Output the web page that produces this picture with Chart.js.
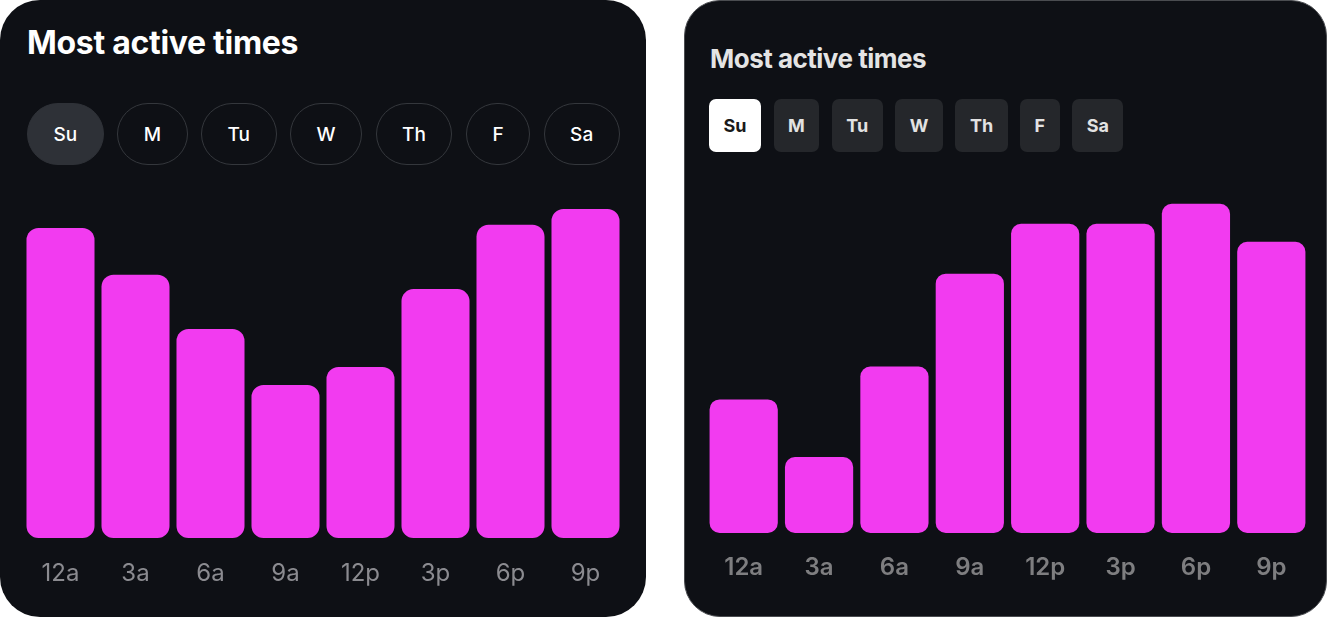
<!DOCTYPE html>
<html>
<head>
<meta charset="utf-8">
<script src="https://cdn.jsdelivr.net/npm/chart.js@4.4.1/dist/chart.umd.min.js"></script>
<style>
  html, body { margin: 0; padding: 0; background: #ffffff; }
  body { width: 1328px; height: 618px; position: relative; overflow: hidden; font-family: Inter, "Noto Sans", sans-serif; }
  .card { position: absolute; top: 0; height: 617px; background: #0e1015; box-sizing: border-box; }
  #cardA { left: 0; width: 646px; border-radius: 40px; }
  #cardB { left: 684px; width: 643px; border-radius: 36px; border: 1px solid #4a4c50; }
  .title { position: absolute; color: #ffffff; font-weight: 700; white-space: nowrap; }
  #cardA .title { left: 27px; top: 23px; font-size: 32px; line-height: 40px; letter-spacing: -0.3px; }
  #cardB .title { left: 25px; top: 42px; font-size: 26px; line-height: 32px; color: #e4e4e4; letter-spacing: -0.5px; }
  .days { position: absolute; display: flex; }
  #cardA .days { left: 27px; top: 103px; gap: 13.5px; }
  #cardB .days { left: 24px; top: 98px; gap: 12.5px; }
  .day { box-sizing: border-box; display: flex; align-items: center; justify-content: center; color: #ffffff; }
  #cardA .day { height: 62px; padding: 0 25.5px; border-radius: 31px; border: 1px solid #34373c; font-size: 19px; font-weight: 500; }
  #cardA .day.on { background: #2e3137; border-color: #2e3137; }
  #cardB .day { height: 53px; padding: 0 14.5px; border-radius: 7px; background: #25272b; font-size: 18px; font-weight: 700; color: #e2e2e2; }
  #cardB .day.on { background: #ffffff; color: #1a1a1a; }
  .plot { position: absolute; }
  #cardA .plot { left: 0; top: 190px; width: 646px; height: 427px; }
  #cardB .plot { left: 0; top: 189px; width: 641px; height: 426px; }
</style>
</head>
<body>
<div class="card" id="cardA">
  <div class="title">Most active times</div>
  <div class="days"></div>
  <div class="plot"><canvas id="chartA"></canvas></div>
</div>
<div class="card" id="cardB">
  <div class="title">Most active times</div>
  <div class="days"></div>
  <div class="plot"><canvas id="chartB"></canvas></div>
</div>
<script>
const dayLabels = ['Su', 'M', 'Tu', 'W', 'Th', 'F', 'Sa'];
const hourLabels = ['12a', '3a', '6a', '9a', '12p', '3p', '6p', '9p'];

// relative activity, Sunday (max of scale = 100)
const activityA = [91.2, 77.4, 61.5, 45.0, 50.3, 73.2, 92.1, 96.8];
const activityB = [39.4, 22.4, 49.1, 76.5, 91.2, 91.2, 97.1, 85.9];

function buildDays(card) {
  const box = card.querySelector('.days');
  dayLabels.forEach((d, i) => {
    const el = document.createElement('div');
    el.className = 'day' + (i === 0 ? ' on' : '');
    el.textContent = d;
    box.appendChild(el);
  });
}

function makeChart(id, values, opts) {
  const ctx = document.getElementById(id);
  return new Chart(ctx, {
    type: 'bar',
    data: {
      labels: hourLabels,
      datasets: [
        {
          label: 'Activity',
          data: values,
          backgroundColor: '#f23bf0',
          borderRadius: opts.radius,
          borderSkipped: false,
          barPercentage: opts.barPct,
          categoryPercentage: 1
        }
      ]
    },
    options: {
      responsive: true,
      maintainAspectRatio: false,
      animation: false,
      layout: { padding: opts.padding },
      plugins: {
        legend: { display: false },
        tooltip: { enabled: false }
      },
      scales: {
        y: { display: false, min: 0, max: 100 },
        x: {
          grid: { display: false },
          border: { display: false },
          afterFit: (scale) => { scale.height = opts.axisHeight; },
          ticks: {
            color: opts.tickColor,
            padding: opts.tickPad,
            font: { family: 'Inter', size: opts.tickSize, weight: opts.tickWeight }
          }
        }
      }
    }
  });
}

buildDays(document.getElementById('cardA'));
buildDays(document.getElementById('cardB'));

makeChart('chartA', activityA, {
  radius: 12, barPct: 0.907,
  padding: { left: 23, right: 23, top: 8, bottom: 0 },
  axisHeight: 79, tickColor: '#8b8b90', tickPad: 13, tickSize: 24, tickWeight: 400
});

makeChart('chartB', activityB, {
  radius: 10, barPct: 0.905,
  padding: { left: 21, right: 17, top: 4, bottom: 0 },
  axisHeight: 83, tickColor: '#7e7e80', tickPad: 12, tickSize: 24, tickWeight: 600
});
</script>
</body>
</html>
